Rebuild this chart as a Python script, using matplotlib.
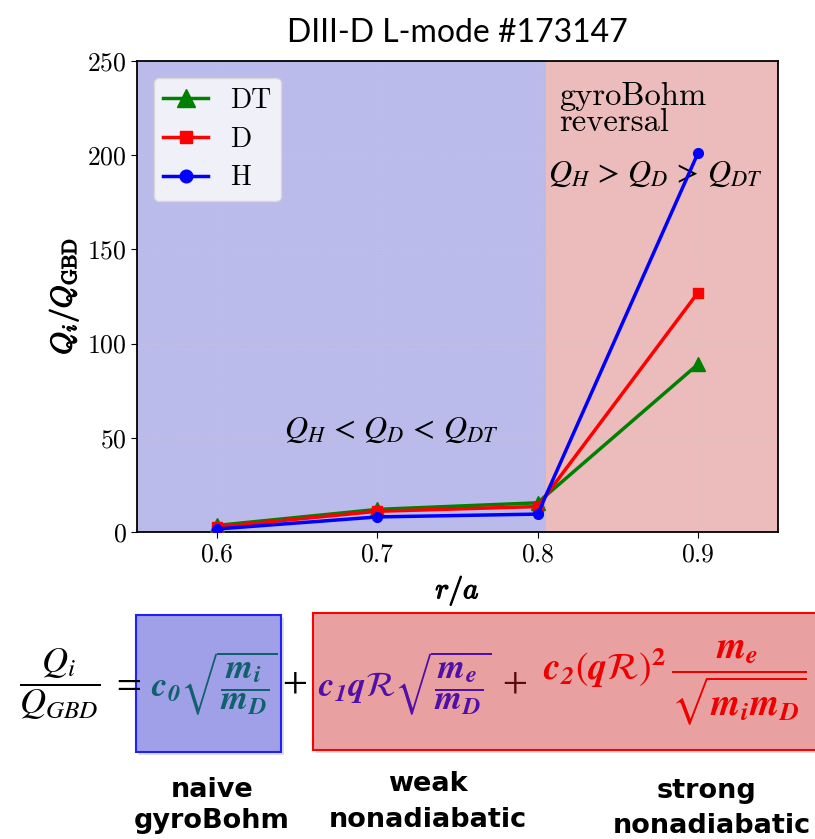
import matplotlib
matplotlib.use("Agg")
import matplotlib.pyplot as plt
from matplotlib.patches import Rectangle
import matplotlib.patheffects as pe

plt.rcParams['font.family'] = 'serif'
plt.rcParams['font.serif'] = ['cmr10']
plt.rcParams['mathtext.fontset'] = 'cm'
plt.rcParams['axes.unicode_minus'] = False
plt.rcParams['axes.formatter.use_mathtext'] = True

# data
r_a = [0.6, 0.7, 0.8, 0.9]
q_dt = [3.5, 12.0, 15.5, 89.0]
q_d = [2.7, 11.0, 13.5, 127.0]
q_h = [1.6, 8.0, 9.5, 201.0]
yticks = [0, 50, 100, 150, 200, 250]
xticks = [0.6, 0.7, 0.8, 0.9]

W, H = 815, 839
fig = plt.figure(figsize=(W / 100, H / 100), dpi=100)

def fx(px): return px / W
def fy(py): return 1 - py / H

bold = [pe.withStroke(linewidth=0.9, foreground='black')]

ax = fig.add_axes([fx(137), fy(532), fx(778) - fx(137), fy(61) - fy(532)])
ax.axvspan(0.55, 0.805, color='#BABAEB', zorder=0, lw=0)
ax.axvspan(0.805, 0.95, color='#ECBBBB', zorder=0, lw=0)
ax.grid(True, ls=':', color='#cccccc', lw=0.8, alpha=0.6, zorder=1)

ax.plot(r_a, q_dt, '-^', color='green', lw=2.5, ms=10, label='DT', zorder=3)
ax.plot(r_a, q_d, '-s', color='red', lw=2.5, ms=7, label='D', zorder=4)
ax.plot(r_a, q_h, '-o', color='blue', lw=2.5, ms=7, label='H', zorder=5)

ax.set_xlim(0.55, 0.95)
ax.set_ylim(0, 250)
ax.set_xticks(xticks)
ax.set_yticks(yticks)
ax.tick_params(labelsize=18.5, direction='out', length=4)
for s in ax.spines.values():
    s.set_linewidth(1.3)

ax.set_xlabel(r'$r/a$', fontsize=21, labelpad=5, path_effects=bold)
ax.set_ylabel(r'$Q_i/Q_{\mathrm{GBD}}$', fontsize=21, labelpad=5, path_effects=bold)
ax.set_title('DIII-D L-mode #173147', family='Lato', fontsize=23, pad=14)

leg = ax.legend(loc='upper left', fontsize=20, facecolor='#F0F0F8', edgecolor='#d8d8d8',
                framealpha=1, borderpad=0.35, handlelength=1.6, labelspacing=0.45,
                markerscale=1.3, borderaxespad=0.6)

ax.text(0.8137, 239, 'gyroBohm\nreversal', fontsize=23.5, va='top', linespacing=0.88)
ax.text(0.8733, 190, r'$Q_H\,>\,Q_D\,>\,Q_{DT}$', fontsize=23, ha='center', va='center', math_fontfamily='stix')
ax.text(0.7087, 54, r'$Q_H\,<\,Q_D\,<\,Q_{DT}$', fontsize=23, ha='center', va='center', math_fontfamily='stix')

# equation panel
def box(x0, y0, x1, y1, fc, ec):
    fig.patches.append(Rectangle((fx(x0) + 0.004, fy(y1) - 0.004), fx(x1) - fx(x0), fy(y0) - fy(y1),
                                 transform=fig.transFigure, fc='#000000', alpha=0.12, lw=0, zorder=1))
    fig.patches.append(Rectangle((fx(x0), fy(y1)), fx(x1) - fx(x0), fy(y0) - fy(y1),
                                 transform=fig.transFigure, fc=fc, ec=ec, lw=1.5, zorder=2))

box(136, 615, 281, 752, '#A0A0E8', '#2020FF')
box(313, 613, 830, 750, '#E9A0A0', '#FF0000')

fig.text(fx(60), fy(684), r'$\dfrac{Q_i}{Q_{GBD}}$', fontsize=26, ha='center', va='center', math_fontfamily='stix')
fig.text(fx(126), fy(683), r'$=$', fontsize=26, ha='center', va='center', math_fontfamily='stix')
fig.text(fx(214), fy(683), r'$\mathbfit{c_0}\sqrt{\dfrac{\mathbfit{m_i}}{\mathbfit{m_D}}}$', fontsize=25,
         ha='center', va='center', color='#10606E', math_fontfamily='stix')
fig.text(fx(295), fy(683), r'$+$', fontsize=26, ha='center', va='center', math_fontfamily='stix')
fig.text(fx(405), fy(683), r'$\mathbfit{c_1 q}\mathcal{R}\sqrt{\dfrac{\mathbfit{m_e}}{\mathbfit{m_D}}}$', fontsize=25,
         ha='center', va='center', color='#5010A8', math_fontfamily='stix')
fig.text(fx(514), fy(683), r'$+$', fontsize=26, ha='center', va='center', color='#5a0a0a', math_fontfamily='stix')
fig.text(fx(675), fy(683), r'$\mathbfit{c_2}(\mathbfit{q}\mathcal{R})^{\mathbf{2}}\,\dfrac{\mathbfit{m_e}}{\sqrt{\mathbfit{m_i m_D}}}$',
         fontsize=27, ha='center', va='center', color='#EE0000', math_fontfamily='stix')

lab = dict(family='DejaVu Sans', weight='bold', fontsize=19.5, ha='center', va='baseline')
fig.text(fx(212), fy(797), 'naive', **lab)
fig.text(fx(212), fy(828), 'gyroBohm', **lab)
fig.text(fx(428), fy(791), 'weak', **lab)
fig.text(fx(428), fy(827), 'nonadiabatic', **lab)
fig.text(fx(707), fy(798), 'strong', **lab)
fig.text(fx(712), fy(833), 'nonadiabatic', **lab)

fig.savefig('out.png', dpi=100)
